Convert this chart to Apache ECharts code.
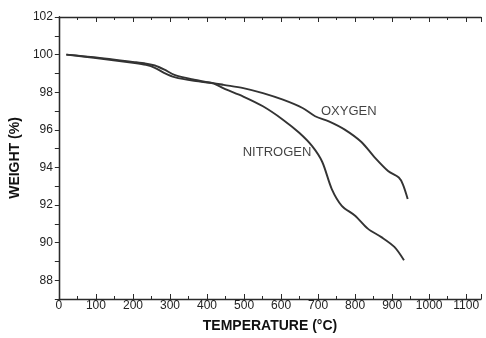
<!DOCTYPE html>
<html>
<head>
<meta charset="utf-8">
<script src="https://cdn.jsdelivr.net/npm/echarts@6/dist/echarts.min.js"></script>
<style>html,body{margin:0;padding:0;background:#fff}#c{width:486px;height:338px}</style>
</head>
<body>
<div id="c"></div>
<script>
var oxygenT = [20, 100, 205, 235, 259, 285, 312, 365, 418, 445, 498, 551, 605, 658, 692, 729, 772, 817, 852, 889, 918, 929, 942];
var oxygenW = [100.0, 99.82, 99.55, 99.45, 99.3, 99.02, 98.8, 98.6, 98.48, 98.39, 98.22, 97.95, 97.6, 97.16, 96.72, 96.45, 96.01, 95.35, 94.55, 93.81, 93.46, 93.1, 92.32];
var nitrogenT = [20, 100, 205, 235, 259, 285, 312, 365, 418, 445, 498, 551, 605, 649, 684, 711, 737, 764, 800, 835, 871, 906, 932];
var nitrogenW = [100.0, 99.85, 99.6, 99.52, 99.42, 99.2, 98.92, 98.66, 98.46, 98.2, 97.77, 97.25, 96.54, 95.84, 95.13, 94.3, 92.85, 91.96, 91.43, 90.73, 90.29, 89.77, 89.06];
var seriesNames = ['OXYGEN', 'NITROGEN'];
var labelPos = [[783, 97.0], [589, 94.8]];
var xTitle = 'TEMPERATURE (°C)';
var yTitle = 'WEIGHT (%)';

function pairs(t, w) { return t.map(function (v, i) { return [v, w[i]]; }); }
var ink = '#2a2a2a';
var font = 'Liberation Sans, Arial, Helvetica, sans-serif';
var chart = echarts.init(document.getElementById('c'), null, {renderer: 'canvas'});
var lineStyle = {color: '#333', width: 1.9};
chart.setOption({
  animation: false,
  backgroundColor: '#fff',
  grid: {left: 53, top: 17, right: 5, bottom: 36, containLabel: false},
  xAxis: [{
    type: 'value', min: 0, max: 1140, interval: 100, position: 'bottom',
    name: xTitle, nameLocation: 'middle', nameGap: 20,
    nameTextStyle: {fontFamily: font, fontSize: 14, fontWeight: 'bold', color: '#111'},
    axisLine: {show: true, lineStyle: {color: ink, width: 1.3}},
    axisTick: {show: true, inside: true, length: 5, lineStyle: {color: ink}},
    minorTick: {show: true, splitNumber: 2, length: 3, lineStyle: {color: ink}},
    axisLabel: {fontFamily: font, fontSize: 12, color: '#222', margin: 1,
      formatter: function (v) { return v % 100 === 0 && v <= 1100 ? String(v) : ''; }},
    splitLine: {show: false}
  }, {
    type: 'value', min: 0, max: 1140, interval: 100, position: 'top',
    axisLine: {show: true, lineStyle: {color: ink, width: 1.3}},
    axisTick: {show: true, inside: true, length: 5, lineStyle: {color: ink}},
    minorTick: {show: true, splitNumber: 2, length: 3, lineStyle: {color: ink}},
    axisLabel: {show: false}, splitLine: {show: false}
  }],
  yAxis: [{
    type: 'value', min: 87, max: 102, interval: 1, position: 'left',
    name: yTitle, nameLocation: 'middle', nameGap: 32, nameRotate: 90,
    nameTextStyle: {fontFamily: font, fontSize: 14, fontWeight: 'bold', color: '#111'},
    axisLine: {show: true, lineStyle: {color: ink, width: 1.3}},
    axisTick: {show: true, inside: false, length: 4, lineStyle: {color: ink}},
    axisLabel: {fontFamily: font, fontSize: 12, color: '#222', margin: 6,
      formatter: function (v) { return v % 2 === 0 ? String(v) : ''; }},
    splitLine: {show: false}
  }, {
    type: 'value', min: 87, max: 102, interval: 1, position: 'right',
    axisLine: {show: true, lineStyle: {color: ink, width: 1.3}},
    axisTick: {show: true, inside: true, length: 4, lineStyle: {color: ink}},
    axisLabel: {show: false}, splitLine: {show: false}
  }],
  series: [{
    name: seriesNames[0], type: 'line', data: pairs(oxygenT, oxygenW), smooth: 0.3,
    showSymbol: false, lineStyle: lineStyle
  }, {
    name: seriesNames[1], type: 'line', data: pairs(nitrogenT, nitrogenW), smooth: 0.3,
    showSymbol: false, lineStyle: lineStyle
  }, {
    name: 'labels', type: 'scatter', symbolSize: 1, itemStyle: {color: 'rgba(0,0,0,0)'},
    data: labelPos.map(function (p, i) { return {value: p, name: seriesNames[i]}; }),
    label: {show: true, position: 'inside', formatter: function (p) { return p.name; },
      fontFamily: font, fontSize: 13, color: '#111'},
    silent: true, z: 5
  }]
});
</script>
</body>
</html>
